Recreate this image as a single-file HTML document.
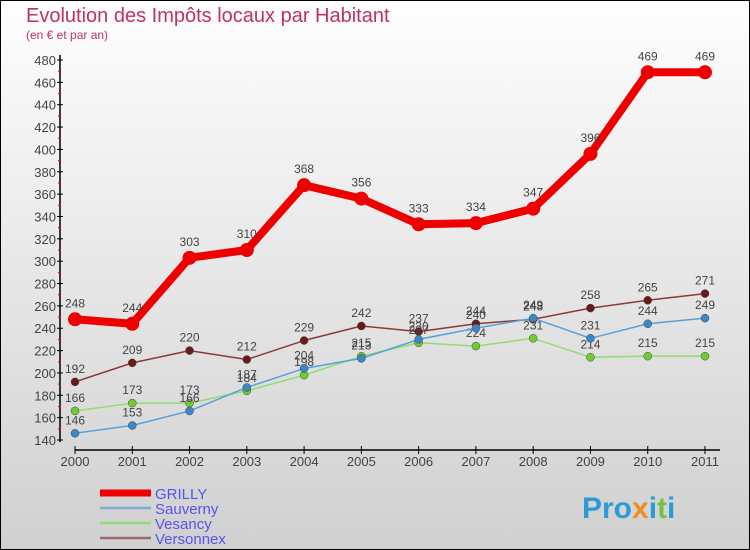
<!DOCTYPE html>
<html><head><meta charset="utf-8"><style>
html,body{margin:0;padding:0}
body{width:750px;height:550px;overflow:hidden;font-family:"Liberation Sans",sans-serif}
#wrap{position:absolute;left:0;top:0;width:748px;height:548px;border:1px solid #000;background:linear-gradient(#fefefe,#d0d0d0)}
</style></head><body>
<div id="wrap">
<svg id="chart" width="750" height="550" style="position:absolute;left:-1px;top:-1px">
<text x="26" y="22" font-size="20" fill="#c0325f">Evolution des Impôts locaux par Habitant</text>
<text x="26" y="39" font-size="12" fill="#c0325f">(en € et par an)</text>
<g id="axes"></g><g id="series"></g><g id="legend"></g>
<text x="582" y="518" font-size="30" font-weight="bold" fill="#2b9bd8">Pro<tspan fill="#f28c1e">x</tspan>i<tspan fill="#7ac142">t</tspan>i</text>
</svg>
</div>
<script>
const years=[2000,2001,2002,2003,2004,2005,2006,2007,2008,2009,2010,2011];
const grilly=[248,244,303,310,368,356,333,334,347,396,469,469];
const sauverny=[146,153,166,187,204,213,230,240,249,231,244,249];
const vesancy=[166,173,173,184,198,215,227,224,231,214,215,215];
const versonnex=[192,209,220,212,229,242,237,244,248,258,265,271];
const yTicks=[140,160,180,200,220,240,260,280,300,320,340,360,380,400,420,440,460,480];
const NS="http://www.w3.org/2000/svg";
const X=i=>75+i*(630/11);
const Y=v=>440-(v-140)*(380/340);
function mk(tag,attrs,parent){const e=document.createElementNS(NS,tag);for(const k in attrs)e.setAttribute(k,attrs[k]);parent.appendChild(e);return e;}
const ax=document.getElementById('axes');
let a=mk('line',{x1:60,y1:55,x2:60,y2:442,stroke:'#000','stroke-width':1.5},ax);


a=mk('line',{x1:75,y1:450,x2:720,y2:450,stroke:'#000','stroke-width':1.5},ax);


yTicks.forEach((t,i)=>{
 mk('line',{x1:57,y1:Y(t),x2:63,y2:Y(t),stroke:'#000'},ax);
 if(i<yTicks.length-1)mk('line',{x1:58,y1:Y(t+10),x2:61,y2:Y(t+10),stroke:'#e00'},ax);
 const tx=mk('text',{x:56,y:Y(t)+5,'text-anchor':'end','font-size':13,fill:'#444'},ax);
 tx.textContent=t;
 
 
});
years.forEach((yr,i)=>{
 mk('line',{x1:X(i),y1:446,x2:X(i),y2:454,stroke:'#000'},ax);
 const tx=mk('text',{x:X(i),y:466,'text-anchor':'middle','font-size':13,fill:'#444'},ax);
 tx.textContent=yr;
 
 
});
const sg=document.getElementById('series');
const defs=[
 {name:'versonnex',data:versonnex,c:'#8b3a3a',dot:'#6b1a1a',w:1.5,r:4},
 {name:'vesancy',data:vesancy,c:'#90dd70',dot:'#70cc30',w:1.5,r:4},
 {name:'sauverny',data:sauverny,c:'#5aa0d8',dot:'#3a88c8',w:1.5,r:4},
 {name:'grilly',data:grilly,c:'#ee0000',dot:'#ee0000',w:8,r:7}
];
defs.forEach(s=>{
 const g=mk('g',{},sg);
 
 
 const pl=mk('polyline',{points:s.data.map((v,i)=>X(i)+','+Y(v)).join(' '),fill:'none',stroke:s.c,'stroke-width':s.w,'stroke-linejoin':'round'},g);
 
 
 s.data.forEach((v,i)=>{
  const c=mk('circle',{cx:X(i),cy:Y(v),r:s.r,fill:s.dot,stroke:s.name==='grilly'?'none':'#444','stroke-width':0.5},g);
  
  
  const t=mk('text',{x:X(i),y:Y(v)-(s.name==='grilly'?12:9),'text-anchor':'middle','font-size':12,fill:'#444'},g);
  t.textContent=v;
  
  
 });
});
const lg=document.getElementById('legend');
[['GRILLY','#ee0000',7],['Sauverny','#7aaed8',2.5],['Vesancy','#90dd70',2.5],['Versonnex','#9a6a6a',2.5]].forEach((e,i)=>{
 const y=493+i*15;
 const g=mk('g',{},lg);
 
 
 mk('line',{x1:100,y1:y,x2:151,y2:y,stroke:e[1],'stroke-width':e[2]},g);
 const t=mk('text',{x:155,y:y+6,'font-size':15,fill:'#5555ee'},g);
 t.textContent=e[0];
});
</script>
</body></html>
